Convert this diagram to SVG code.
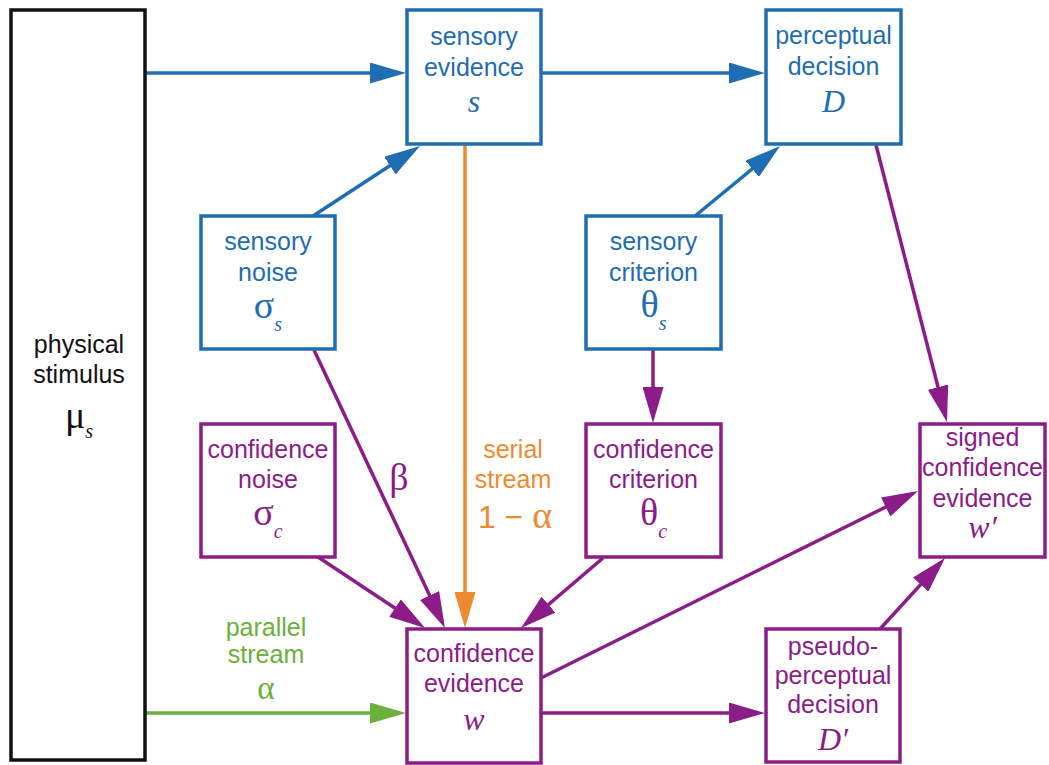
<svg xmlns="http://www.w3.org/2000/svg" width="1049" height="765" viewBox="0 0 1049 765">
<style>
  .t { font-family: "Liberation Sans", Arial, sans-serif; font-size: 25px; text-anchor: middle; }
  .v { font-family: "Liberation Serif", "Times New Roman", serif; font-style: italic; font-size: 32px; text-anchor: middle; }
  .gk { font-family: "Liberation Serif", "Times New Roman", serif; font-size: 38px; text-anchor: middle; }
  .sub { font-family: "Liberation Serif", "Times New Roman", serif; font-style: italic; font-size: 20px; }
  .bl { fill: #1f6db3; }
  .pu { fill: #8c1c87; }
  .or { fill: #f08a2f; }
  .gr { fill: #69b13a; }
  .bk { fill: #111; }
  .nb { fill: #fff; stroke: #1f6db3; stroke-width: 3.5; }
  .np { fill: #fff; stroke: #8c1c87; stroke-width: 3.5; }
  .nk { fill: #fff; stroke: #111; stroke-width: 3.5; }
  .eb { stroke: #1f6db3; stroke-width: 3.5; fill: none; marker-end: url(#ab); }
  .ep { stroke: #8c1c87; stroke-width: 3.5; fill: none; marker-end: url(#ap); }
  .eo { stroke: #f08a2f; stroke-width: 3.5; fill: none; marker-end: url(#ao); }
  .eg { stroke: #69b13a; stroke-width: 3.5; fill: none; marker-end: url(#ag); }
</style>
<defs>
  <marker id="ab" markerUnits="userSpaceOnUse" markerWidth="36" markerHeight="21" refX="30" refY="10.5" orient="auto"><path d="M0,0 L36,10.5 L0,21 z" fill="#1f6db3"/></marker>
  <marker id="ap" markerUnits="userSpaceOnUse" markerWidth="36" markerHeight="21" refX="30" refY="10.5" orient="auto"><path d="M0,0 L36,10.5 L0,21 z" fill="#8c1c87"/></marker>
  <marker id="ao" markerUnits="userSpaceOnUse" markerWidth="36" markerHeight="21" refX="30" refY="10.5" orient="auto"><path d="M0,0 L36,10.5 L0,21 z" fill="#f08a2f"/></marker>
  <marker id="ag" markerUnits="userSpaceOnUse" markerWidth="36" markerHeight="21" refX="30" refY="10.5" orient="auto"><path d="M0,0 L36,10.5 L0,21 z" fill="#69b13a"/></marker>
</defs>
<rect width="1049" height="765" fill="#fff"/>

<g id="connectors">
  <line class="eb" x1="145" y1="73" x2="400" y2="73"/>
  <line class="eb" x1="541" y1="73" x2="759" y2="73"/>
  <line class="eb" x1="313" y1="216" x2="415" y2="149.2"/>
  <line class="eb" x1="695" y1="216" x2="775.4" y2="149.8"/>
  <line class="ep" x1="876" y1="145" x2="945.5" y2="416.2"/>
  <line class="eo" x1="465" y1="145" x2="465" y2="622"/>
  <line class="ep" x1="314" y1="350" x2="442.4" y2="622.6"/>
  <line class="ep" x1="318" y1="557" x2="420" y2="624.7"/>
  <line class="ep" x1="653" y1="349" x2="653" y2="417"/>
  <line class="ep" x1="603" y1="558" x2="525.6" y2="624.1"/>
  <line class="ep" x1="541" y1="678" x2="912.6" y2="493.7"/>
  <line class="ep" x1="541" y1="713" x2="759" y2="713"/>
  <line class="eg" x1="145" y1="713" x2="400" y2="713"/>
  <line class="ep" x1="880" y1="629" x2="940.9" y2="562.4"/>
</g>

<g id="edge-labels">
  <text class="gk pu" x="399" y="490">β</text>
  <text class="t or" x="513" y="458">serial</text>
  <text class="t or" x="513" y="488">stream</text>
  <text class="t or" x="515" y="528" style="font-size:32px">1 − <tspan class="gk" style="font-size:38px">α</tspan></text>
  <text class="t gr" x="266" y="636">parallel</text>
  <text class="t gr" x="266" y="663">stream</text>
  <text class="gk gr" x="266" y="699" style="font-size:33px">α</text>
</g>

<g id="physical-stimulus">
  <rect class="nk" x="11" y="10" width="134" height="750"/>
  <text class="t bk" x="79" y="353">physical</text>
  <text class="t bk" x="79" y="383">stimulus</text>
  <text class="gk bk" x="79" y="428">μ<tspan class="sub" dy="10">s</tspan></text>
</g>

<g id="sensory-evidence">
  <rect class="nb" x="407" y="10" width="134" height="134"/>
  <text class="t bl" x="474" y="45">sensory</text>
  <text class="t bl" x="474" y="76">evidence</text>
  <text class="v bl" x="474" y="112">s</text>
</g>

<g id="perceptual-decision">
  <rect class="nb" x="766" y="10" width="135" height="134"/>
  <text class="t bl" x="833.5" y="44">perceptual</text>
  <text class="t bl" x="833.5" y="75">decision</text>
  <text class="v bl" x="833.5" y="112">D</text>
</g>

<g id="sensory-noise">
  <rect class="nb" x="201" y="216" width="134" height="133"/>
  <text class="t bl" x="268" y="250">sensory</text>
  <text class="t bl" x="268" y="281">noise</text>
  <text class="gk bl" x="268" y="318">σ<tspan class="sub" dy="13">s</tspan></text>
</g>

<g id="sensory-criterion">
  <rect class="nb" x="586" y="216" width="135" height="133"/>
  <text class="t bl" x="653.5" y="250">sensory</text>
  <text class="t bl" x="653.5" y="281">criterion</text>
  <text class="gk bl" x="653.5" y="317">θ<tspan class="sub" dy="13">s</tspan></text>
</g>

<g id="confidence-noise">
  <rect class="np" x="201" y="424" width="134" height="133"/>
  <text class="t pu" x="268" y="458">confidence</text>
  <text class="t pu" x="268" y="488">noise</text>
  <text class="gk pu" x="268" y="525">σ<tspan class="sub" dy="13">c</tspan></text>
</g>

<g id="confidence-criterion">
  <rect class="np" x="586" y="424" width="135" height="133"/>
  <text class="t pu" x="653.5" y="458">confidence</text>
  <text class="t pu" x="653.5" y="488">criterion</text>
  <text class="gk pu" x="653.5" y="525">θ<tspan class="sub" dy="13">c</tspan></text>
</g>

<g id="signed-confidence-evidence">
  <rect class="np" x="920" y="424" width="125" height="133"/>
  <text class="t pu" x="982.5" y="446">signed</text>
  <text class="t pu" x="982.5" y="476">confidence</text>
  <text class="t pu" x="982.5" y="507">evidence</text>
  <text class="v pu" x="982.5" y="538">w′</text>
</g>

<g id="confidence-evidence">
  <rect class="np" x="407" y="629" width="134" height="134"/>
  <text class="t pu" x="474" y="662">confidence</text>
  <text class="t pu" x="474" y="692">evidence</text>
  <text class="v pu" x="474" y="730">w</text>
</g>

<g id="pseudo-perceptual-decision">
  <rect class="np" x="766" y="629" width="134" height="133"/>
  <text class="t pu" x="833" y="655">pseudo-</text>
  <text class="t pu" x="833" y="684">perceptual</text>
  <text class="t pu" x="833" y="713">decision</text>
  <text class="v pu" x="833" y="750">D′</text>
</g>
</svg>
